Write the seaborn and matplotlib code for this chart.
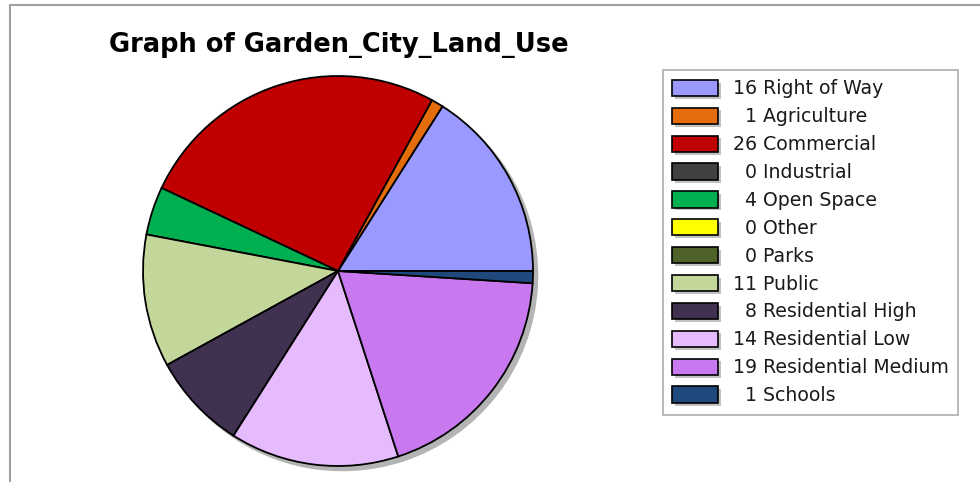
import matplotlib
matplotlib.use("Agg")
import matplotlib.pyplot as plt
import seaborn as sns
from matplotlib.patches import Patch
from matplotlib.lines import Line2D
import matplotlib.patheffects as pe

categories = ["Right of Way", "Agriculture", "Commercial", "Industrial", "Open Space",
              "Other", "Parks", "Public", "Residential High", "Residential Low",
              "Residential Medium", "Schools"]
values = [16, 1, 26, 0, 4, 0, 0, 11, 8, 14, 19, 1]
colors = ["#9999FF", "#E46C0A", "#C00000", "#404040", "#00B050", "#FFFF00",
          "#4F6228", "#C4D79B", "#403151", "#E6BBFD", "#C879F0", "#1F497D"]
title = "Graph of Garden_City_Land_Use"

sns.set_theme(style="white")
plt.rcParams["font.family"] = ["DejaVu Sans"]
palette = sns.color_palette(colors)

W, H = 980, 482
fig = plt.figure(figsize=(W / 100, H / 100), dpi=100)
fig.patch.set_facecolor("white")

cx, cy, r = 338, 271, 195
ax = fig.add_axes([(cx - r) / W, (H - cy - r) / H, 2 * r / W, 2 * r / H])

nz = [(v, c) for v, c in zip(values, palette) if v > 0]
ax.pie([v for v, _ in nz], colors=[c for _, c in nz], startangle=0, counterclock=True,
       radius=1, wedgeprops=dict(edgecolor="black", linewidth=1.3),
       shadow=dict(ox=0.016, oy=-0.016, facecolor="#B4B4B4", edgecolor="#B4B4B4", alpha=1))
ax.set_xlim(-1, 1)
ax.set_ylim(-1, 1)
ax.set_aspect("equal")
ax.axis("off")

fig.text(339 / W, 1 - 45 / H, title, ha="center", va="center",
         fontsize=18.5, fontweight="bold", color="black")

labels = []
for v, c in zip(values, categories):
    num = str(v) if v >= 10 else "  " + str(v)
    labels.append(f"{num} {c}")
handles = [Patch(facecolor=col, edgecolor="black", linewidth=1.2) for col in palette]
for h in handles:
    h.set_path_effects([pe.SimplePatchShadow(offset=(2, -2), shadow_rgbFace="#999999", alpha=0.6), pe.Normal()])

leg = fig.legend(handles, labels, loc="upper left",
                 bbox_to_anchor=(663 / W, 1 - 70 / H), bbox_transform=fig.transFigure,
                 frameon=True, fancybox=False, fontsize=13.6,
                 handlelength=2.43, handleheight=0.95, handletextpad=0.77,
                 labelspacing=0.47, borderpad=0.5, borderaxespad=0)
leg.get_frame().set_edgecolor("#999999")
leg.get_frame().set_linewidth(1.2)
for t in leg.get_texts():
    t.set_color("#1a1a1a")

fig.add_artist(Line2D([10 / W, 10 / W], [0, 1 - 5 / H], transform=fig.transFigure,
                      color="#A0A0A0", linewidth=1.5))
fig.add_artist(Line2D([10 / W, 1], [1 - 5 / H, 1 - 5 / H], transform=fig.transFigure,
                      color="#A0A0A0", linewidth=1.5))

fig.savefig("out.png", dpi=100)
